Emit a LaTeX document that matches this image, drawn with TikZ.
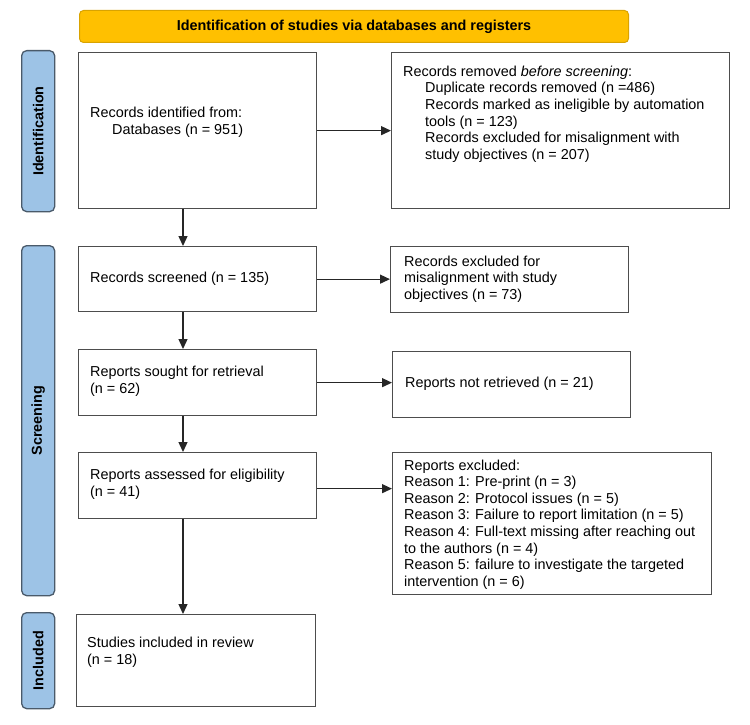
\documentclass[tikz,border=0pt]{standalone}
\usepackage{fontspec}
\setmainfont{Liberation Sans}
\usetikzlibrary{arrows.meta}
\definecolor{hdrfill}{HTML}{FFC000}
\definecolor{hdrline}{HTML}{D9A300}
\definecolor{sidefill}{HTML}{9DC3E6}
\definecolor{sideline}{HTML}{4A5A6A}
\definecolor{boxline}{HTML}{4D4D4D}
\begin{document}
\begin{tikzpicture}[x=1pt,y=-1pt,
  font=\fontsize{14.4}{16.6}\selectfont,
  box/.style={draw=boxline, line width=1.3pt, fill=white, anchor=north west, inner sep=0pt},
  sidebar/.style={draw=sideline, fill=sidefill, line width=1.3pt, rounded corners=5pt, anchor=north west, inner sep=0pt},
  sidetext/.style={rotate=90, font=\fontsize{14.4}{16.6}\selectfont\bfseries},
  hdrbox/.style={draw=hdrline, fill=hdrfill, line width=1pt, rounded corners=4pt, anchor=north west, inner sep=0pt, font=\fontsize{14.4}{16.6}\selectfont\bfseries},
  txt/.style={anchor=west, align=left, inner sep=0pt},
  arr/.style={draw=black!85, line width=1.3pt, -{Triangle[length=10pt,width=9pt]}}]
\useasboundingbox (0,0) rectangle (750,725);

% header
\node[hdrbox, minimum width=549pt, minimum height=32pt] (hd) at (79,10) {Identification of studies via databases and registers};

% sidebars
\node[sidebar, minimum width=33pt, minimum height=161pt] (sid) at (21,50) {};
\node[sidetext] (sidt) at (sid.center) {Identification};
\node[sidebar, minimum width=33pt, minimum height=350pt] (sscr) at (21,245) {};
\node[sidetext] (sscrt) at (sscr.center) {Screening};
\node[sidebar, minimum width=33pt, minimum height=96pt] (sinc) at (21,612) {};
\node[sidetext] (sinct) at (sinc.center) {Included};

% boxes
\node[box, minimum width=238pt, minimum height=156pt] (b1) at (78,52) {};
\node[box, minimum width=338pt, minimum height=156pt] (b2) at (391,52) {};
\node[box, minimum width=238pt, minimum height=65pt] (scr) at (78,246) {};
\node[box, minimum width=238pt, minimum height=66pt] (exc1) at (390,246) {};
\node[box, minimum width=238pt, minimum height=66pt] (sought) at (78,349) {};
\node[box, minimum width=238pt, minimum height=66pt] (nr) at (392,351) {};
\node[box, minimum width=238pt, minimum height=66pt] (assess) at (78,452) {};
\node[box, minimum width=319pt, minimum height=142pt] (exc2) at (392,452) {};
\node[box, minimum width=239pt, minimum height=92pt] (incl) at (76,614) {};

% texts
\node[txt] (t1) at (90,122.5) {Records identified from:\\\hspace*{22pt}Databases (n = 951)};
\node[txt] (t2) at (403,114) {Records removed \textit{before screening}:\\
\hspace*{22pt}Duplicate records removed (n =486)\\
\hspace*{22pt}Records marked as ineligible by automation\\
\hspace*{22pt}tools (n = 123)\\
\hspace*{22pt}Records excluded for misalignment with\\
\hspace*{22pt}study objectives (n = 207)};
\node[txt] (t3) at (90,279) {Records screened (n = 135)};
\node[txt] (t4) at (404,279) {Records excluded for\\misalignment with study\\objectives (n = 73)};
\node[txt] (t5) at (90,381.5) {Reports sought for retrieval\\(n = 62)};
\node[txt] (t6) at (405,384) {Reports not retrieved (n = 21)};
\node[txt] (t7) at (90,484.5) {Reports assessed for eligibility\\(n = 41)};
\node[txt] (t8) at (404,524.5) {Reports excluded:\\
Reason 1: Pre-print (n = 3)\\
Reason 2: Protocol issues (n = 5)\\
Reason 3: Failure to report limitation (n = 5)\\
Reason 4: Full-text missing after reaching out\\
to the authors (n = 4)\\
Reason 5: failure to investigate the targeted\\
intervention (n = 6)};
\node[txt] (t9) at (87,652) {Studies included in review\\(n = 18)};

% connectors
\coordinate (ax) at (183,0);
\draw[arr] (b1.south -| ax) -- (scr.north -| ax);
\draw[arr] (scr.south -| ax) -- (sought.north -| ax);
\draw[arr] (sought.south -| ax) -- (assess.north -| ax);
\draw[arr] (assess.south -| ax) -- (incl.north -| ax);
\draw[arr] (b1.east) -- (b1.east -| b2.west);
\draw[arr] (scr.east) -- (scr.east -| exc1.west);
\draw[arr] (sought.east) -- (sought.east -| nr.west);
\draw[arr] ([yshift=-3pt]assess.east) -- ([yshift=-3pt]assess.east -| exc2.west);
\end{tikzpicture}
\end{document}
